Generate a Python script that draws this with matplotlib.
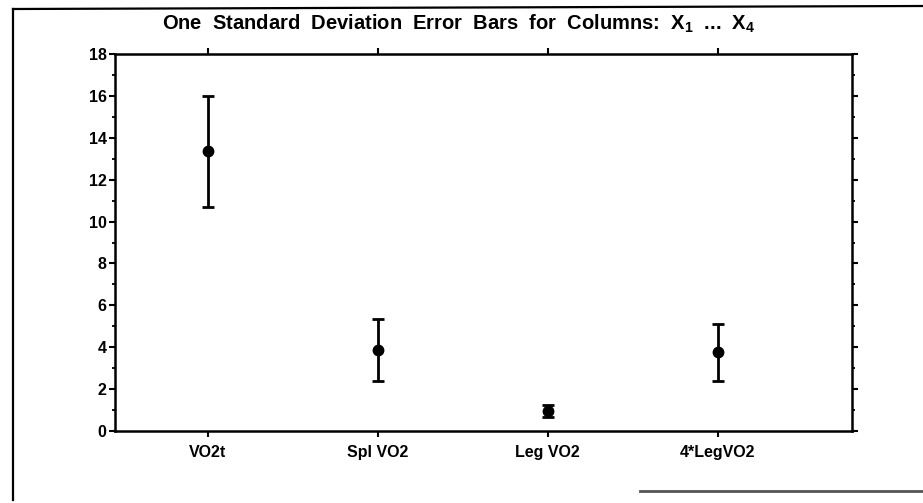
import matplotlib.pyplot as plt
from matplotlib.lines import Line2D
from matplotlib.ticker import MultipleLocator

plt.rcParams['font.family'] = ['Liberation Sans', 'DejaVu Sans']
plt.rcParams['mathtext.fontset'] = 'custom'
plt.rcParams['mathtext.rm'] = 'Liberation Sans:bold'
plt.rcParams['mathtext.it'] = 'Liberation Sans:bold'

columns = ['VO2t', 'Spl VO2', 'Leg VO2', '4*LegVO2']
means = [13.35, 3.85, 0.95, 3.75]
std_devs = [2.65, 1.48, 0.3, 1.38]

fig = plt.figure(figsize=(9.23, 5.03), dpi=100)
ax = fig.add_axes([0.1246, 0.1431, 0.7984, 0.7495])

pos = range(1, len(columns) + 1)
ax.errorbar(pos, means, yerr=std_devs, fmt='o', color='black',
            markersize=7.5, elinewidth=2.0, capsize=4.5, capthick=2.0)

ax.set_xlim(0.453, 4.79)
ax.set_ylim(0, 18)
ax.set_xticks(list(pos))
ax.set_xticklabels(columns)
ax.yaxis.set_major_locator(MultipleLocator(2))
ax.yaxis.set_minor_locator(MultipleLocator(1))

for s in ax.spines.values():
    s.set_linewidth(1.8)

ax.tick_params(axis='both', which='major', direction='out', length=4,
               width=1.5, labelsize=11.5, top=True, right=True)
ax.tick_params(axis='y', which='minor', direction='out', length=2,
               width=1.3, right=True)
ax.tick_params(axis='x', which='major', pad=6)
ax.tick_params(axis='y', which='major', pad=2)
for lbl in ax.get_xticklabels() + ax.get_yticklabels():
    lbl.set_fontweight('bold')

fig.text(0.497, 0.953, 'One  Standard  Deviation  Error  Bars  for  Columns:  X$_1$  ...  X$_4$',
         ha='center', va='center', fontsize=14.5, fontweight='bold')

# outer frame edges
fig.add_artist(Line2D([13 / 923, 13 / 923], [1 - 500 / 503, 1 - 9 / 503],
                      color='black', lw=1.6, transform=fig.transFigure))
fig.add_artist(Line2D([13 / 923, 1.0], [1 - 9 / 503, 1 - 6 / 503],
                      color='black', lw=1.6, transform=fig.transFigure))
fig.add_artist(Line2D([640 / 923, 1.0], [1 - 491 / 503, 1 - 491 / 503],
                      color='#555555', lw=2.0, transform=fig.transFigure))

fig.savefig('out.png', dpi=100)
